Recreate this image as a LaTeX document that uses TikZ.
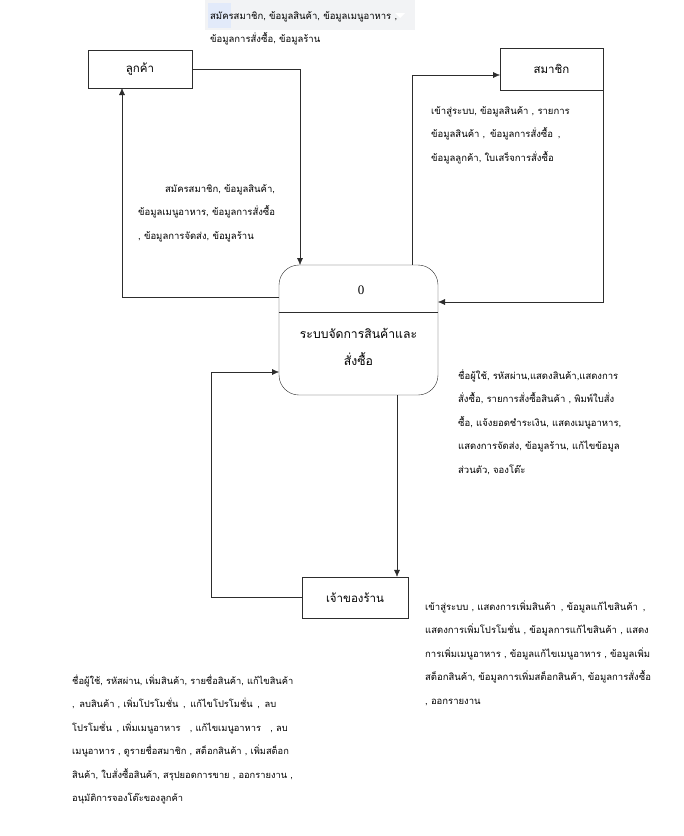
\documentclass[tikz,border=0pt]{standalone}
\usepackage{fontspec}
\setmainfont[Script=Thai]{Loma}
\newfontfamily\idfont{Liberation Serif}
\usetikzlibrary{arrows.meta, positioning}
\definecolor{LineGray}{RGB}{45,45,45}
\definecolor{PanelGray}{RGB}{242,243,245}
\definecolor{PickBlue}{RGB}{226,234,250}
\newcommand{\linetop}{\rule{0pt}{12pt}}

\begin{document}
\begin{tikzpicture}[x=1pt, y=-1pt,
    entity/.style={draw=LineGray, thin, minimum width=104pt, minimum height=38pt, inner sep=0pt, font=\fontsize{11.5}{14}\selectfont},
    flow/.style={draw=LineGray, thin, -{Latex[length=7pt,width=6pt]}},
    link/.style={draw=LineGray, thin},
    note/.style={anchor=north west, align=left, inner sep=0pt, font=\fontsize{9.5}{23.5}\selectfont}]
  \useasboundingbox[fill=white] (0,0) rectangle (684,836);

  % panel behind the top label
  \fill[PanelGray] (205,0) rectangle (415,30);
  \fill[PickBlue] (208,3) rectangle (231,28);
  \fill[white] (395,13) -- (405,13) -- (400,18) -- cycle;

  % entities and process
  \node[entity] (cust) at (140,69) {ลูกค้า};
  \node[entity, minimum width=103pt, minimum height=42pt] (memb) at (551.5,69) {สมาชิก};
  \node[entity, minimum width=106pt, minimum height=41pt] (owner) at (355,597.5) {เจ้าของร้าน};
  \node[draw=LineGray, thin, rounded corners=20pt, minimum width=159pt, minimum height=130pt] (proc) at (358.5,330) {};
  \draw[link] (proc.west |- 0,312) -- (proc.east |- 0,312);
  \node[font=\idfont\fontsize{13}{15}\selectfont] (procid) at (361,290) {0};
  \node[align=center, font=\fontsize{12.2}{27}\selectfont] (procname) at (358.5,347) {ระบบจัดการสินค้าและ\\สั่งซื้อ};

  % ports on the process
  \coordinate (pTopL) at (300,265);
  \coordinate (pTopR) at (412,265);
  \coordinate (pLeftU) at (279,297);
  \coordinate (pLeftD) at (279,372);
  \coordinate (pRightU) at (438,302);
  \coordinate (pBot) at (397,395);
  \coordinate (custIn) at (122,88);
  \coordinate (membIn) at (500,75);
  \coordinate (turnW) at (211,597.5);

  % data flows
  \draw[flow] (cust.east) -| (pTopL);
  \draw[flow] (pLeftU) -| (custIn);
  \draw[flow] (pTopR) |- (membIn);
  \draw[flow] (memb.south east) |- (pRightU);
  \draw[flow] (pBot) -- (pBot |- owner.north);
  \draw[flow] (owner.west) -- (turnW) |- (pLeftD);

  % flow labels
  \node[note] (lblTop) at (210,7) {\linetop สมัครสมาชิก, ข้อมูลสินค้า, ข้อมูลเมนูอาหาร ,\\ข้อมูลการสั่งซื้อ, ข้อมูลร้าน};
  \node[note] (lblMemb) at (431,102) {\linetop เข้าสู่ระบบ, ข้อมูลสินค้า , รายการ\\ข้อมูลสินค้า ,\enspace ข้อมูลการสั่งซื้อ\enspace ,\\ข้อมูลลูกค้า, ใบเสร็จการสั่งซื้อ};
  \node[note] (lblCust) at (138,180) {\linetop\hspace{27pt}สมัครสมาชิก, ข้อมูลสินค้า,\\ข้อมูลเมนูอาหาร, ข้อมูลการสั่งซื้อ\\, ข้อมูลการจัดส่ง, ข้อมูลร้าน};
  \node[note] (lblProc) at (458,367) {\linetop ชื่อผู้ใช้, รหัสผ่าน,แสดงสินค้า,แสดงการ\\สั่งซื้อ, รายการสั่งซื้อสินค้า , พิมพ์ใบสั่ง\\ซื้อ, แจ้งยอดชำระเงิน, แสดงเมนูอาหาร,\\แสดงการจัดส่ง, ข้อมูลร้าน, แก้ไขข้อมูล\\ส่วนตัว, จองโต๊ะ};
  \node[note] (lblOwnIn) at (425,598) {\linetop เข้าสู่ระบบ , แสดงการเพิ่มสินค้า\enspace , ข้อมูลแก้ไขสินค้า\enspace ,\\แสดงการเพิ่มโปรโมชั่น , ข้อมูลการแก้ไขสินค้า , แสดง\\การเพิ่มเมนูอาหาร , ข้อมูลแก้ไขเมนูอาหาร , ข้อมูลเพิ่ม\\สต็อกสินค้า, ข้อมูลการเพิ่มสต็อกสินค้า, ข้อมูลการสั่งซื้อ\\, ออกรายงาน};
  \node[note, font=\fontsize{9.3}{23.5}\selectfont] (lblOwnOut) at (72,672) {\linetop ชื่อผู้ใช้, รหัสผ่าน, เพิ่มสินค้า, รายชื่อสินค้า, แก้ไขสินค้า\\,\enspace ลบสินค้า , เพิ่มโปรโมชั่น\enspace ,\enspace แก้ไขโปรโมชั่น\enspace ,\enspace ลบ\\โปรโมชั่น\enspace , เพิ่มเมนูอาหาร\quad , แก้ไขเมนูอาหาร\quad , ลบ\\เมนูอาหาร , ดูรายชื่อสมาชิก , สต็อกสินค้า , เพิ่มสต็อก\\สินค้า, ใบสั่งซื้อสินค้า, สรุปยอดการขาย , ออกรายงาน ,\\อนุมัติการจองโต๊ะของลูกค้า};
\end{tikzpicture}
\end{document}
